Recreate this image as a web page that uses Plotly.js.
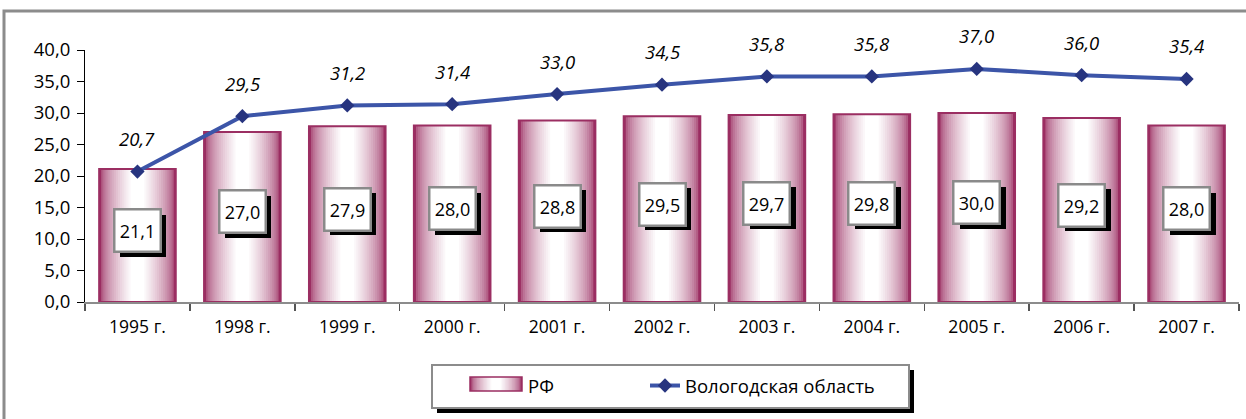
<!DOCTYPE html>
<html><head><meta charset="utf-8">
<script src="https://cdn.plot.ly/plotly-3.0.1.min.js"></script>
<style>html,body{margin:0;padding:0;background:#fff;}#chart{width:1246px;height:419px;}</style>
</head><body><div id="chart"></div>
<script>
const years = ['1995 г.','1998 г.','1999 г.','2000 г.','2001 г.','2002 г.','2003 г.','2004 г.','2005 г.','2006 г.','2007 г.'];
const rf = [21.1, 27.0, 27.9, 28.0, 28.8, 29.5, 29.7, 29.8, 30.0, 29.2, 28.0];
const vologda = [20.7, 29.5, 31.2, 31.4, 33.0, 34.5, 35.8, 35.8, 37.0, 36.0, 35.4];
const seriesNames = ['РФ', 'Вологодская область'];

const fmt = v => v.toFixed(1).replace('.', ',');
const FONT = 'Open Sans, Liberation Sans, sans-serif';

// gradient bars via overlaid bars of decreasing width
const fullW = 0.73;
const steps = 16;
const dark = [155, 46, 98];
const gradColor = t => {
  const k = Math.pow(t, 0.55);
  const c = dark.map(d => Math.round(d + (255 - d) * k));
  return `rgb(${c[0]},${c[1]},${c[2]})`;
};
const traces = [];
for (let i = 0; i < steps; i++) {
  const t = i / (steps - 1);
  traces.push({
    type: 'bar', x: years, y: rf, width: fullW * (1 - t * 0.82),
    marker: {color: gradColor(t), line: {width: 0}},
    name: seriesNames[0], showlegend: false, hoverinfo: 'skip'
  });
}
traces.push({
  type: 'bar', x: years, y: rf, width: fullW,
  marker: {color: 'rgba(0,0,0,0)', line: {color: 'rgb(155,46,98)', width: 2}},
  showlegend: false, hoverinfo: 'skip'
});
traces.push({
  type: 'scatter', mode: 'lines+markers', x: years, y: vologda,
  name: seriesNames[1],
  line: {color: '#3C55A8', width: 4},
  marker: {symbol: 'diamond', size: 11, color: '#27347F', line: {width: 0}}
});

const L = 85, R = 1239, T = 50, B = 302;
const px = p => (p - L) / (R - L);
const py = p => (B - p) / (B - T);

const annotations = [];
rf.forEach((v, i) => {
  annotations.push({x: years[i], y: v / 2, yshift: 0, xshift: 6, text: ' ', showarrow: false,
    bgcolor: '#000', width: 44, height: 40, borderpad: 1, borderwidth: 0, font: {size: 15}});
  annotations.push({x: years[i], y: v / 2, yshift: 5, text: fmt(v), showarrow: false,
    bgcolor: '#fff', bordercolor: '#8a8a8a', borderwidth: 2.5, width: 42, height: 38, borderpad: 1,
    font: {family: FONT, size: 18, color: '#000'}});
});
vologda.forEach((v, i) => {
  annotations.push({x: years[i], y: v, yshift: 33, text: '<i>' + fmt(v) + '</i>', showarrow: false,
    font: {family: FONT, size: 18.5, color: '#000'}});
});
// legend text for РФ (swatch drawn as shapes)
annotations.push({xref: 'paper', yref: 'paper', x: px(526), y: py(385), xanchor: 'left', yanchor: 'middle',
  text: seriesNames[0], showarrow: false, font: {family: FONT, size: 18.5, color: '#000'}});

const shapes = [
  {type: 'rect', xref: 'paper', yref: 'paper', x0: px(4), x1: px(1252), y0: py(11), y1: py(425),
    line: {color: '#8c8c8c', width: 3}, fillcolor: 'rgba(0,0,0,0)', layer: 'below'},
  {type: 'rect', xref: 'paper', yref: 'paper', x0: px(437), x1: px(914), y0: py(370), y1: py(413),
    line: {width: 0}, fillcolor: '#000', layer: 'above'},
  {type: 'rect', xref: 'paper', yref: 'paper', x0: px(432), x1: px(909), y0: py(365), y1: py(408),
    line: {color: '#8c8c8c', width: 2}, fillcolor: '#fff', layer: 'above'}
];
// gradient legend swatch
const swL = 470, swR = 522, swT = 377, swB = 391, swC = (swL + swR) / 2;
for (let i = 0; i < steps; i++) {
  const t = i / (steps - 1);
  const hw = (swR - swL) / 2 * (1 - t * 0.82);
  shapes.push({type: 'rect', xref: 'paper', yref: 'paper', x0: px(swC - hw), x1: px(swC + hw),
    y0: py(swT), y1: py(swB), line: {width: 0}, fillcolor: gradColor(t), layer: 'above'});
}
shapes.push({type: 'rect', xref: 'paper', yref: 'paper', x0: px(swL), x1: px(swR), y0: py(swT), y1: py(swB),
  line: {color: 'rgb(155,46,98)', width: 1.5}, fillcolor: 'rgba(0,0,0,0)', layer: 'above'});

const layout = {
  width: 1246, height: 419,
  margin: {l: L, r: 1246 - R, t: T, b: 419 - B, autoexpand: false},
  paper_bgcolor: '#fff', plot_bgcolor: '#fff',
  separators: ', ',
  barmode: 'overlay',
  showlegend: true,
  font: {family: FONT, size: 15, color: '#000'},
  xaxis: {type: 'category', range: [-0.5, years.length - 0.5], autorange: false,
    showgrid: false, zeroline: false, automargin: false,
    showline: true, linecolor: '#8c8c8c', linewidth: 2,
    ticks: 'outside', ticklen: 7, tickcolor: '#555', tickwidth: 1.5, tickson: 'boundaries',
    ticklabelstandoff: 8,
    tickfont: {family: FONT, size: 17.5, color: '#000'}, fixedrange: true},
  yaxis: {range: [0, 40], autorange: false, tick0: 0, dtick: 5, tickformat: '.1f', showgrid: false, zeroline: false,
    automargin: false,
    showline: true, linecolor: '#000', linewidth: 1,
    ticks: 'outside', ticklen: 7, tickcolor: '#000',
    ticklabelstandoff: 3,
    tickfont: {family: FONT, size: 18.5, color: '#000'}, fixedrange: true},
  legend: {orientation: 'h', xanchor: 'left', x: px(645), y: py(386), yanchor: 'middle',
    bgcolor: 'rgba(0,0,0,0)', borderwidth: 0,
    font: {family: FONT, size: 18.5, color: '#000'}, itemclick: false, itemdoubleclick: false},
  annotations: annotations,
  shapes: shapes
};

Plotly.newPlot('chart', traces, layout, {displayModeBar: false, staticPlot: true});
</script>
</body></html>
